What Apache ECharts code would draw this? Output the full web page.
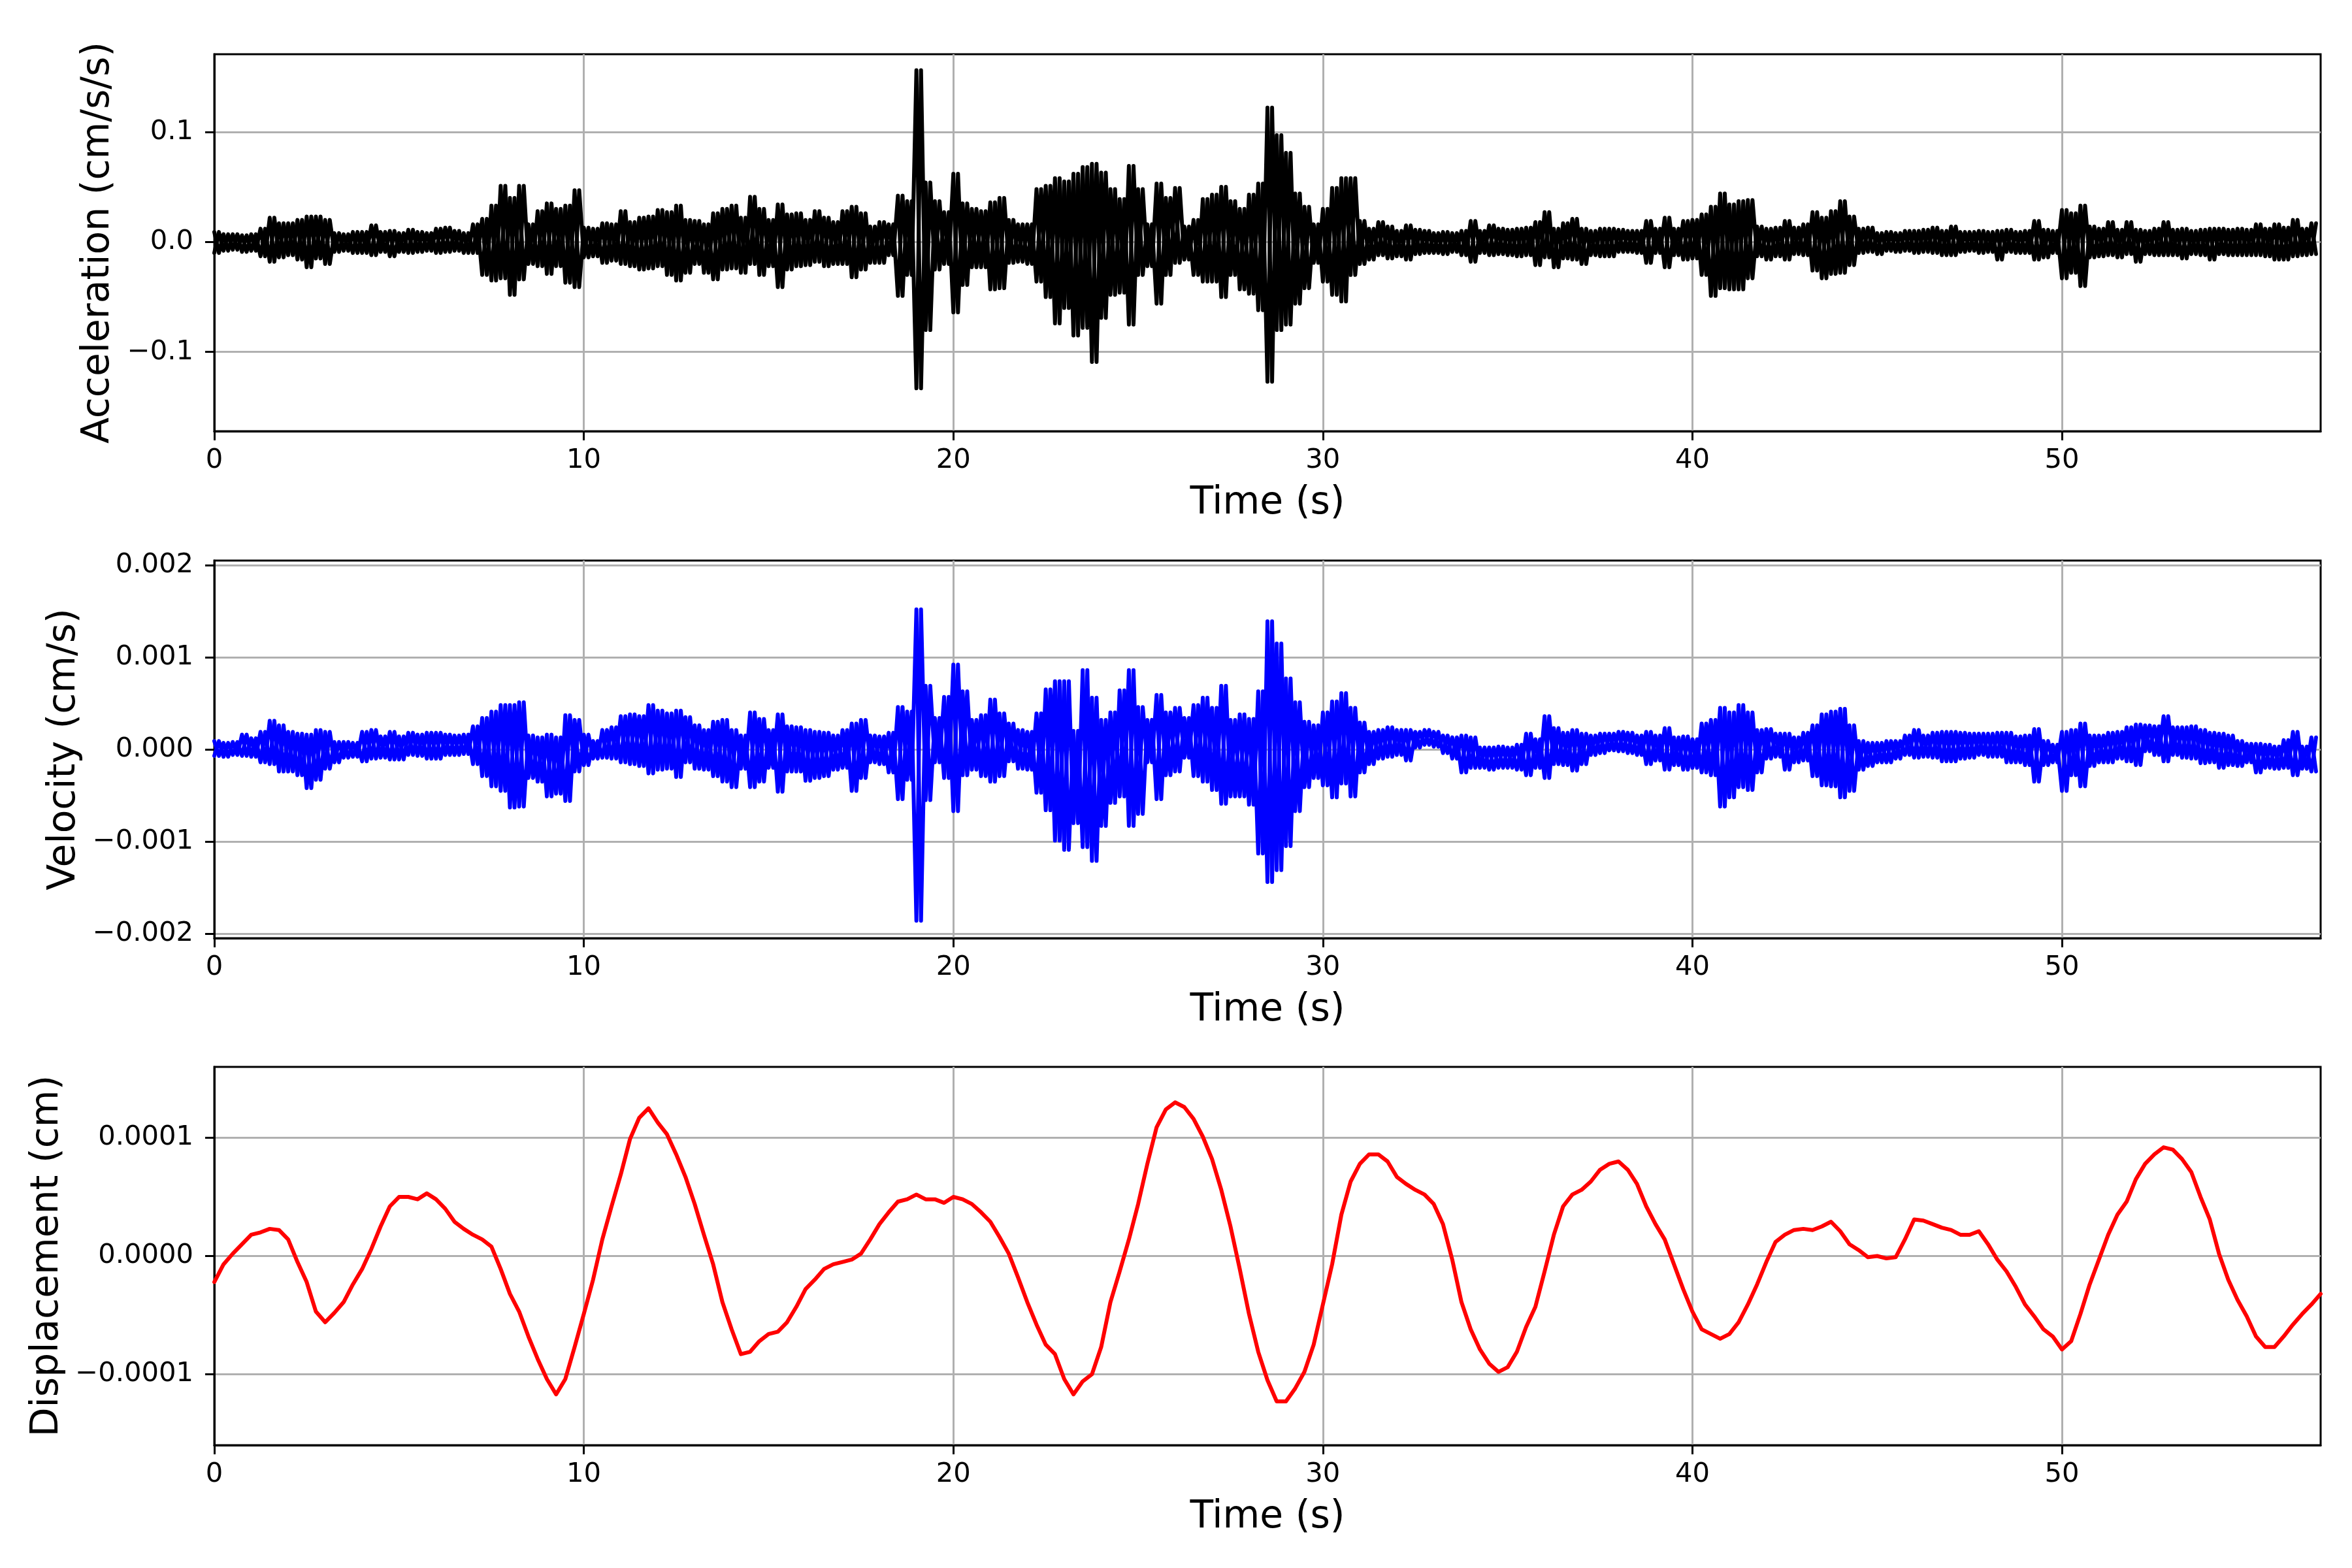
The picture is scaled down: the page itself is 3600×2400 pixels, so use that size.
<!DOCTYPE html>
<html>
<head>
<meta charset="utf-8">
<script src="https://cdn.jsdelivr.net/npm/echarts@6/dist/echarts.min.js"></script>
<style>
html,body{margin:0;padding:0;background:#ffffff;}
#chart{width:3600px;height:2400px;}
</style>
</head>
<body>
<div id="chart"></div>
<script>
// ---------------- DATA ----------------
// Envelope bins of 0.25 s: within bin i the trace reaches a maximum accHi[i]
// and a minimum accLo[i] (values in cm/s/s).
const binSeconds = 0.25;

const timeTicks = [0, 10, 20, 30, 40, 50];
const timeTickLabels = ['0', '10', '20', '30', '40', '50'];

const accTicks = [-0.1, 0, 0.1];
const accTickLabels = ['\u22120.1', '0.0', '0.1'];

const velTicks = [-0.002, -0.001, 0, 0.001, 0.002];
const velTickLabels = ['\u22120.002', '\u22120.001', '0.000', '0.001', '0.002'];

const dispTicks = [-0.0001, 0, 0.0001];
const dispTickLabels = ['\u22120.0001', '0.0000', '0.0001'];

const accHi = [
0.009,0.007,0.007,0.006, 0.007,0.012,0.022,0.017, 0.017,0.020,0.023,0.023, 0.020,0.008,0.007,0.009,
0.009,0.015,0.009,0.010, 0.008,0.011,0.009,0.008, 0.012,0.013,0.010,0.008, 0.016,0.021,0.033,0.051,
0.040,0.051,0.016,0.028, 0.035,0.030,0.033,0.047, 0.013,0.012,0.017,0.016, 0.028,0.018,0.022,0.023,
0.029,0.027,0.033,0.020, 0.019,0.016,0.026,0.030, 0.033,0.022,0.041,0.030, 0.020,0.034,0.025,0.026,
0.020,0.028,0.022,0.018, 0.028,0.032,0.026,0.014, 0.018,0.016,0.042,0.037, 0.156,0.054,0.037,0.027,
0.062,0.035,0.030,0.028, 0.036,0.040,0.020,0.016, 0.016,0.048,0.051,0.058, 0.055,0.062,0.068,0.071,
0.063,0.048,0.039,0.069, 0.048,0.016,0.053,0.040, 0.049,0.014,0.020,0.039, 0.043,0.050,0.037,0.030,
0.043,0.053,0.122,0.097, 0.081,0.044,0.032,0.016, 0.030,0.049,0.058,0.058, 0.019,0.012,0.018,0.014,
0.010,0.015,0.011,0.010, 0.008,0.009,0.008,0.010, 0.019,0.010,0.015,0.012, 0.011,0.012,0.013,0.018,
0.027,0.012,0.017,0.021, 0.012,0.010,0.012,0.012, 0.011,0.010,0.010,0.019, 0.012,0.022,0.012,0.019,
0.020,0.025,0.032,0.044, 0.034,0.037,0.038,0.014, 0.012,0.013,0.019,0.013, 0.016,0.027,0.022,0.028,
0.037,0.023,0.012,0.013, 0.008,0.009,0.008,0.010, 0.010,0.011,0.013,0.010, 0.014,0.009,0.009,0.010,
0.009,0.010,0.011,0.009, 0.010,0.019,0.011,0.010, 0.029,0.026,0.033,0.014, 0.012,0.018,0.011,0.018,
0.011,0.010,0.012,0.018, 0.011,0.012,0.010,0.011, 0.012,0.012,0.011,0.012, 0.011,0.016,0.012,0.016,
0.013,0.020,0.012,0.017
];
const accLo = [
-0.010,-0.008,-0.007,-0.009, -0.008,-0.013,-0.018,-0.014, -0.012,-0.016,-0.023,-0.015, -0.020,-0.009,-0.008,-0.010,
-0.010,-0.012,-0.009,-0.013, -0.009,-0.010,-0.009,-0.008, -0.010,-0.009,-0.008,-0.010, -0.010,-0.030,-0.035,-0.033,
-0.048,-0.034,-0.020,-0.022, -0.029,-0.022,-0.037,-0.041, -0.014,-0.013,-0.019,-0.017, -0.020,-0.022,-0.025,-0.024,
-0.022,-0.030,-0.035,-0.028, -0.020,-0.028,-0.034,-0.025, -0.024,-0.028,-0.020,-0.030, -0.022,-0.041,-0.025,-0.022,
-0.021,-0.018,-0.022,-0.020, -0.020,-0.032,-0.025,-0.019, -0.019,-0.012,-0.049,-0.030, -0.133,-0.080,-0.025,-0.020,
-0.064,-0.039,-0.023,-0.023, -0.043,-0.042,-0.019,-0.018, -0.020,-0.036,-0.050,-0.074, -0.060,-0.085,-0.078,-0.109,
-0.069,-0.048,-0.046,-0.075, -0.030,-0.022,-0.056,-0.030, -0.019,-0.016,-0.030,-0.036, -0.036,-0.050,-0.030,-0.043,
-0.047,-0.062,-0.127,-0.080, -0.075,-0.056,-0.042,-0.019, -0.036,-0.048,-0.054,-0.030, -0.020,-0.016,-0.012,-0.015,
-0.013,-0.016,-0.011,-0.010, -0.010,-0.011,-0.009,-0.012, -0.018,-0.010,-0.012,-0.011, -0.012,-0.013,-0.012,-0.021,
-0.014,-0.023,-0.015,-0.016, -0.020,-0.012,-0.013,-0.013, -0.009,-0.009,-0.010,-0.019, -0.010,-0.023,-0.012,-0.016,
-0.015,-0.030,-0.049,-0.042, -0.043,-0.043,-0.033,-0.013, -0.016,-0.013,-0.016,-0.011, -0.012,-0.026,-0.033,-0.029,
-0.028,-0.021,-0.010,-0.009, -0.011,-0.008,-0.009,-0.008, -0.010,-0.009,-0.010,-0.012, -0.012,-0.009,-0.008,-0.010,
-0.009,-0.016,-0.009,-0.010, -0.010,-0.016,-0.014,-0.010, -0.033,-0.028,-0.040,-0.014, -0.013,-0.012,-0.014,-0.011,
-0.018,-0.011,-0.012,-0.012, -0.012,-0.015,-0.011,-0.012, -0.016,-0.011,-0.012,-0.012, -0.012,-0.012,-0.013,-0.016,
-0.016,-0.013,-0.012,-0.011
];

// Velocity envelope (cm/s), same binning
const velHi = [
0.00009,0.00007,0.00008,0.00016, 0.00012,0.00019,0.00031,0.00026, 0.00019,0.00017,0.00016,0.00021, 0.00019,0.00008,0.00008,0.00007,
0.00019,0.00021,0.00014,0.00019, 0.00014,0.00018,0.00016,0.00018, 0.00018,0.00016,0.00015,0.00016, 0.00025,0.00034,0.00041,0.00048,
0.00048,0.00051,0.00015,0.00013, 0.00016,0.00013,0.00037,0.00032, 0.00016,0.00009,0.00021,0.00024, 0.00036,0.00038,0.00036,0.00048,
0.00042,0.00039,0.00042,0.00035, 0.00026,0.00021,0.00030,0.00032, 0.00021,0.00015,0.00040,0.00033, 0.00021,0.00038,0.00025,0.00024,
0.00021,0.00019,0.00018,0.00015, 0.00021,0.00028,0.00032,0.00015, 0.00014,0.00018,0.00046,0.00041, 0.00152,0.00069,0.00034,0.00057,
0.00092,0.00063,0.00032,0.00037, 0.00054,0.00039,0.00028,0.00021, 0.00019,0.00039,0.00065,0.00074, 0.00074,0.00020,0.00086,0.00056,
0.00032,0.00040,0.00064,0.00086, 0.00046,0.00032,0.00059,0.00040, 0.00045,0.00034,0.00048,0.00056, 0.00045,0.00069,0.00032,0.00038,
0.00033,0.00063,0.00139,0.00115, 0.00077,0.00051,0.00030,0.00026, 0.00040,0.00052,0.00061,0.00045, 0.00029,0.00019,0.00021,0.00024,
0.00021,0.00021,0.00019,0.00021, 0.00019,0.00015,0.00013,0.00015, 0.00013,0.00002,0.00002,0.00003, 0.00002,0.00005,0.00017,0.00011,
0.00036,0.00023,0.00018,0.00021, 0.00017,0.00015,0.00017,0.00017, 0.00019,0.00018,0.00015,0.00019, 0.00015,0.00023,0.00013,0.00014,
0.00011,0.00028,0.00032,0.00045, 0.00040,0.00048,0.00040,0.00021, 0.00022,0.00017,0.00017,0.00013, 0.00018,0.00026,0.00038,0.00041,
0.00044,0.00026,0.00009,0.00007, 0.00007,0.00009,0.00009,0.00015, 0.00021,0.00015,0.00018,0.00019, 0.00019,0.00018,0.00017,0.00017,
0.00017,0.00018,0.00018,0.00014, 0.00015,0.00022,0.00009,0.00005, 0.00019,0.00021,0.00028,0.00015, 0.00015,0.00018,0.00019,0.00024,
0.00027,0.00026,0.00025,0.00036, 0.00024,0.00024,0.00025,0.00021, 0.00018,0.00017,0.00015,0.00009, 0.00006,0.00006,0.00005,0.00003,
0.00010,0.00019,0.00003,0.00013
];
const velLo = [
-0.00007,-0.00008,-0.00006,-0.00007, -0.00008,-0.00014,-0.00016,-0.00024, -0.00024,-0.00028,-0.00042,-0.00033, -0.00021,-0.00014,-0.00009,-0.00008,
-0.00013,-0.00010,-0.00009,-0.00011, -0.00011,-0.00006,-0.00007,-0.00010, -0.00010,-0.00006,-0.00006,-0.00005, -0.00016,-0.00029,-0.00040,-0.00045,
-0.00063,-0.00062,-0.00031,-0.00035, -0.00051,-0.00048,-0.00056,-0.00024, -0.00017,-0.00010,-0.00009,-0.00010, -0.00014,-0.00016,-0.00018,-0.00026,
-0.00022,-0.00021,-0.00030,-0.00014, -0.00021,-0.00022,-0.00029,-0.00035, -0.00041,-0.00021,-0.00041,-0.00035, -0.00020,-0.00046,-0.00024,-0.00024,
-0.00034,-0.00031,-0.00029,-0.00022, -0.00020,-0.00045,-0.00031,-0.00014, -0.00016,-0.00025,-0.00054,-0.00033, -0.00186,-0.00055,-0.00014,-0.00031,
-0.00067,-0.00028,-0.00022,-0.00029, -0.00035,-0.00029,-0.00013,-0.00021, -0.00022,-0.00047,-0.00066,-0.00099, -0.00109,-0.00080,-0.00106,-0.00121,
-0.00083,-0.00058,-0.00051,-0.00083, -0.00070,-0.00014,-0.00054,-0.00028, -0.00024,-0.00009,-0.00029,-0.00035, -0.00044,-0.00059,-0.00051,-0.00051,
-0.00060,-0.00113,-0.00144,-0.00131, -0.00105,-0.00067,-0.00041,-0.00031, -0.00039,-0.00052,-0.00037,-0.00051, -0.00025,-0.00016,-0.00010,-0.00008,
-0.00006,-0.00012,0.00002,0.00005, 0.00003,-0.00004,-0.00010,-0.00025, -0.00020,-0.00020,-0.00022,-0.00020, -0.00020,-0.00022,-0.00028,-0.00020,
-0.00031,-0.00016,-0.00017,-0.00023, -0.00016,-0.00006,-0.00004,-0.00001, -0.00002,-0.00004,-0.00006,-0.00016, -0.00012,-0.00022,-0.00017,-0.00022,
-0.00020,-0.00025,-0.00028,-0.00062, -0.00052,-0.00041,-0.00044,-0.00025, -0.00010,-0.00008,-0.00022,-0.00014, -0.00012,-0.00029,-0.00039,-0.00040,
-0.00052,-0.00045,-0.00022,-0.00018, -0.00014,-0.00014,-0.00010,-0.00006, -0.00009,-0.00008,-0.00009,-0.00013, -0.00013,-0.00010,-0.00009,-0.00006,
-0.00008,-0.00008,-0.00014,-0.00014, -0.00017,-0.00035,-0.00017,-0.00014, -0.00045,-0.00028,-0.00040,-0.00018, -0.00014,-0.00014,-0.00010,-0.00013,
-0.00017,-0.00002,-0.00006,-0.00013, -0.00006,-0.00009,-0.00010,-0.00015, -0.00014,-0.00020,-0.00017,-0.00018, -0.00014,-0.00025,-0.00020,-0.00021,
-0.00020,-0.00028,-0.00021,-0.00024
];

// Displacement (cm), one value every 0.25 s from 0 to 57 s
const dispVals = [
-0.000022,-0.000007,0.000002,0.000010, 0.000018,0.000020,0.000023,0.000022, 0.000014,-0.000005,-0.000022,-0.000047,
-0.000056,-0.000048,-0.000039,-0.000024, -0.000011,0.000006,0.000025,0.000042, 0.000050,0.000050,0.000048,0.000053,
0.000048,0.000040,0.000029,0.000023, 0.000018,0.000014,0.000008,-0.000011, -0.000032,-0.000047,-0.000068,-0.000087,
-0.000104,-0.000117,-0.000104,-0.000077, -0.000049,-0.000020,0.000014,0.000042, 0.000069,0.000099,0.000117,0.000125,
0.000113,0.000103,0.000086,0.000067, 0.000044,0.000018,-0.000007,-0.000039, -0.000062,-0.000083,-0.000081,-0.000072,
-0.000066,-0.000064,-0.000056,-0.000043, -0.000028,-0.000020,-0.000011,-0.000007, -0.000005,-0.000003,0.000002,0.000014,
0.000027,0.000037,0.000046,0.000048, 0.000052,0.000048,0.000048,0.000045, 0.000050,0.000048,0.000044,0.000037,
0.000029,0.000016,0.000002,-0.000018, -0.000039,-0.000058,-0.000075,-0.000083, -0.000104,-0.000117,-0.000106,-0.000100,
-0.000077,-0.000039,-0.000013,0.000014, 0.000044,0.000078,0.000109,0.000124, 0.000130,0.000126,0.000116,0.000101,
0.000082,0.000056,0.000025,-0.000011, -0.000049,-0.000081,-0.000105,-0.000123, -0.000123,-0.000112,-0.000098,-0.000075,
-0.000041,-0.000007,0.000035,0.000063, 0.000078,0.000086,0.000086,0.000080, 0.000067,0.000061,0.000056,0.000052,
0.000044,0.000027,-0.000003,-0.000039, -0.000062,-0.000079,-0.000091,-0.000098, -0.000094,-0.000081,-0.000060,-0.000043,
-0.000013,0.000018,0.000042,0.000052, 0.000056,0.000063,0.000073,0.000078, 0.000080,0.000073,0.000061,0.000042,
0.000027,0.000014,-0.000007,-0.000028, -0.000047,-0.000062,-0.000066,-0.000070, -0.000066,-0.000056,-0.000041,-0.000024,
-0.000005,0.000012,0.000018,0.000022, 0.000023,0.000022,0.000025,0.000029, 0.000021,0.000010,0.000005,-0.000001,
0.000000,-0.000002,-0.000001,0.000014, 0.000031,0.000030,0.000027,0.000024, 0.000022,0.000018,0.000018,0.000021,
0.000010,-0.000003,-0.000013,-0.000026, -0.000041,-0.000051,-0.000062,-0.000068, -0.000079,-0.000072,-0.000049,-0.000024,
-0.000003,0.000018,0.000035,0.000046, 0.000065,0.000078,0.000086,0.000092, 0.000090,0.000082,0.000071,0.000050,
0.000031,0.000002,-0.000020,-0.000037, -0.000051,-0.000068,-0.000077,-0.000077, -0.000068,-0.000058,-0.000049,-0.000041,
-0.000032
];

// ---------------- BUILD ----------------
// Each bin is drawn as a swing between its max and min; two interleaved
// passes (max-first and min-first) give the dense look of a sampled trace.
function envelopePass(hi, lo, maxFirst) {
  const out = [];
  for (let i = 0; i < hi.length; i++) {
    const a = maxFirst ? hi[i] : lo[i];
    const b = maxFirst ? lo[i] : hi[i];
    out.push([i * binSeconds, a]);
    out.push([i * binSeconds + binSeconds / 2, b]);
  }
  return out;
}
const accDataA = envelopePass(accHi, accLo, true);
const accDataB = envelopePass(accHi, accLo, false);
const velDataA = envelopePass(velHi, velLo, true);
const velDataB = envelopePass(velHi, velLo, false);
const dispData = dispVals.map((v, i) => [i * binSeconds, v]);

function labelFor(ticks, labels) {
  return function (v) {
    for (let k = 0; k < ticks.length; k++) {
      if (Math.abs(ticks[k] - v) <= Math.abs(ticks[k]) * 1e-6 + 1e-15) return labels[k];
    }
    return '';
  };
}

const FONT = 'DejaVu Sans';
const TICK_FS = 41.7;
const LABEL_FS = 58.3;
const gridBoxes = [
  { left: 328, top: 83, width: 3224, height: 577 },
  { left: 328, top: 858, width: 3224, height: 578 },
  { left: 328, top: 1633, width: 3224, height: 579 }
];

function makeX(idx) {
  return {
    type: 'value', gridIndex: idx, min: 0, max: 57,
    name: 'Time (s)', nameLocation: 'middle', nameGap: 82,
    nameTextStyle: { fontSize: LABEL_FS, color: '#000', fontFamily: FONT },
    axisLine: { show: true, onZero: false, lineStyle: { color: '#000', width: 3 } },
    axisTick: { show: true, inside: false, length: 14, customValues: timeTicks, lineStyle: { color: '#000', width: 3 } },
    axisLabel: { show: true, customValues: timeTicks, margin: 24, fontSize: TICK_FS, color: '#000', fontFamily: FONT,
                 formatter: labelFor(timeTicks, timeTickLabels) },
    splitLine: { show: true, lineStyle: { color: '#b0b0b0', width: 3 } }
  };
}
function makeY(idx, min, max, ticks, labels, name, gap) {
  return {
    type: 'value', gridIndex: idx, min: min, max: max,
    name: name, nameLocation: 'middle', nameGap: gap, nameRotate: 90,
    nameTextStyle: { fontSize: LABEL_FS, color: '#000', fontFamily: FONT },
    axisLine: { show: true, onZero: false, lineStyle: { color: '#000', width: 3 } },
    axisTick: { show: true, inside: false, length: 14, customValues: ticks, lineStyle: { color: '#000', width: 3 } },
    axisLabel: { show: true, customValues: ticks, margin: 32, fontSize: TICK_FS, color: '#000', fontFamily: FONT,
                 formatter: labelFor(ticks, labels) },
    splitLine: { show: true, lineStyle: { color: '#b0b0b0', width: 3 } }
  };
}
function traceSeries(axisIdx, data, color, width) {
  return { type: 'line', xAxisIndex: axisIdx, yAxisIndex: axisIdx, data: data, showSymbol: false, symbol: 'none',
           lineStyle: { color: color, width: width, join: 'round', cap: 'round' }, clip: true, silent: true };
}

const chart = echarts.init(document.getElementById('chart'), null, { renderer: 'canvas', width: 3600, height: 2400 });
chart.setOption({
  animation: false,
  backgroundColor: '#ffffff',
  grid: gridBoxes.map(g => Object.assign({ show: true, borderColor: '#000', borderWidth: 3, backgroundColor: 'transparent', containLabel: false }, g)),
  xAxis: [makeX(0), makeX(1), makeX(2)],
  yAxis: [
    makeY(0, -0.172, 0.1706, accTicks, accTickLabels, 'Acceleration (cm/s/s)', 148),
    makeY(1, -0.00205, 0.00205, velTicks, velTickLabels, 'Velocity (cm/s)', 200),
    makeY(2, -0.00016, 0.00016, dispTicks, dispTickLabels, 'Displacement (cm)', 226)
  ],
  series: [
    traceSeries(0, accDataA, '#000000', 6),
    traceSeries(0, accDataB, '#000000', 6),
    traceSeries(1, velDataA, '#0000ff', 6),
    traceSeries(1, velDataB, '#0000ff', 6),
    traceSeries(2, dispData, '#ff0000', 6)
  ]
});
</script>
</body>
</html>
